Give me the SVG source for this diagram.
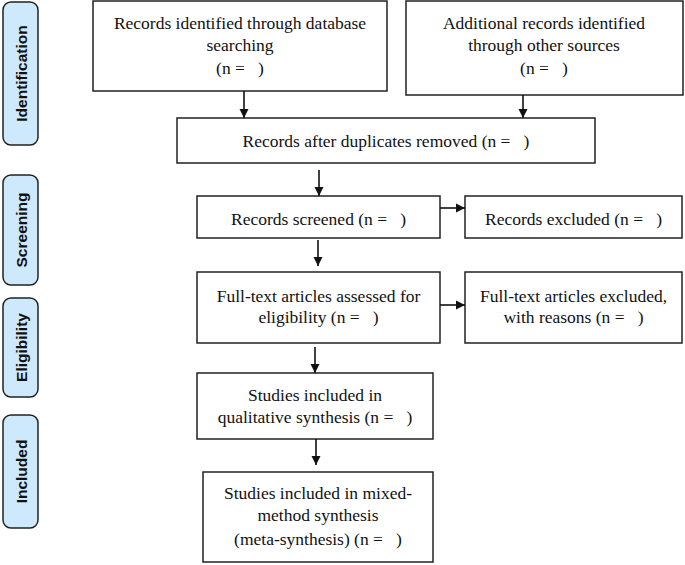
<svg xmlns="http://www.w3.org/2000/svg" width="685" height="565" viewBox="0 0 685 565">
<style>
.box{fill:#fff;stroke:#222;stroke-width:1.5}
.phase{fill:#cde9fb;stroke:#222;stroke-width:1.5}
.t{font-family:"Liberation Serif","Times New Roman",serif;font-size:17.5px;fill:#111;text-anchor:middle}
.pt{font-family:"Liberation Sans",Arial,sans-serif;font-size:15.5px;font-weight:bold;fill:#111;text-anchor:middle;dominant-baseline:central}
.c{stroke:#111;stroke-width:1.6;fill:none}
</style>
<defs>
<marker id="ah" viewBox="0 0 10 10" refX="10" refY="5" markerWidth="9" markerHeight="10" markerUnits="userSpaceOnUse" orient="auto">
<path d="M0,0 L10,5 L0,10 z" fill="#111"/>
</marker>
</defs>
<rect width="685" height="565" fill="#fff"/>
<g id="phase-identification"><rect class="phase" x="3" y="2" width="35" height="143" rx="8"/><text class="pt" transform="translate(21,73.5) rotate(-90)">Identification</text></g>
<g id="phase-screening"><rect class="phase" x="3" y="175" width="35" height="110" rx="8"/><text class="pt" transform="translate(21,230) rotate(-90)">Screening</text></g>
<g id="phase-eligibility"><rect class="phase" x="3" y="298" width="35" height="99" rx="8"/><text class="pt" transform="translate(21,347.5) rotate(-90)">Eligibility</text></g>
<g id="phase-included"><rect class="phase" x="3" y="415" width="35" height="113" rx="8"/><text class="pt" transform="translate(21,471.5) rotate(-90)">Included</text></g>

<g id="db"><rect class="box" x="93" y="1" width="294" height="90"/><text class="t" x="240" y="29">Records identified through database</text><text class="t" x="240" y="51">searching</text><text class="t" x="240" y="74" xml:space="preserve">(n =   )</text></g>
<g id="other"><rect class="box" x="406" y="1" width="277" height="94"/><text class="t" x="544" y="29">Additional records identified</text><text class="t" x="544" y="51">through other sources</text><text class="t" x="544" y="74" xml:space="preserve">(n =   )</text></g>
<g id="dup"><rect class="box" x="177" y="118" width="418" height="45"/><text class="t" x="386" y="147" xml:space="preserve">Records after duplicates removed (n =   )</text></g>
<g id="screened"><rect class="box" x="197" y="196" width="243" height="42"/><text class="t" x="318.5" y="225" xml:space="preserve">Records screened (n =   )</text></g>
<g id="excluded"><rect class="box" x="465" y="196" width="217" height="42"/><text class="t" x="573.5" y="225" xml:space="preserve">Records excluded (n =   )</text></g>
<g id="fulltext"><rect class="box" x="197" y="272" width="243" height="71"/><text class="t" x="318.5" y="302">Full-text articles assessed for</text><text class="t" x="318.5" y="323" xml:space="preserve">eligibility (n =   )</text></g>
<g id="ftexcluded"><rect class="box" x="465" y="272" width="217" height="71"/><text class="t" x="573.5" y="302">Full-text articles excluded,</text><text class="t" x="573.5" y="323" xml:space="preserve">with reasons (n =   )</text></g>
<g id="qual"><rect class="box" x="197" y="373" width="236" height="66"/><text class="t" x="315" y="401">Studies included in</text><text class="t" x="315" y="423" xml:space="preserve">qualitative synthesis (n =   )</text></g>
<g id="mixed"><rect class="box" x="203" y="472" width="230" height="90"/><text class="t" x="318" y="499">Studies included in mixed-</text><text class="t" x="318" y="521">method synthesis</text><text class="t" x="318" y="545" xml:space="preserve">(meta-synthesis) (n =   )</text></g>

<g id="connectors">
<line class="c" x1="244" y1="91" x2="244" y2="118" marker-end="url(#ah)"/>
<line class="c" x1="523" y1="95" x2="523" y2="118" marker-end="url(#ah)"/>
<line class="c" x1="319" y1="170" x2="319" y2="196" marker-end="url(#ah)"/>
<line class="c" x1="440" y1="208" x2="465" y2="208" marker-end="url(#ah)"/>
<line class="c" x1="318" y1="240" x2="318" y2="266" marker-end="url(#ah)"/>
<line class="c" x1="440" y1="305" x2="465" y2="305" marker-end="url(#ah)"/>
<line class="c" x1="315" y1="347" x2="315" y2="373" marker-end="url(#ah)"/>
<line class="c" x1="316" y1="439" x2="316" y2="465" marker-end="url(#ah)"/>
</g>
</svg>
